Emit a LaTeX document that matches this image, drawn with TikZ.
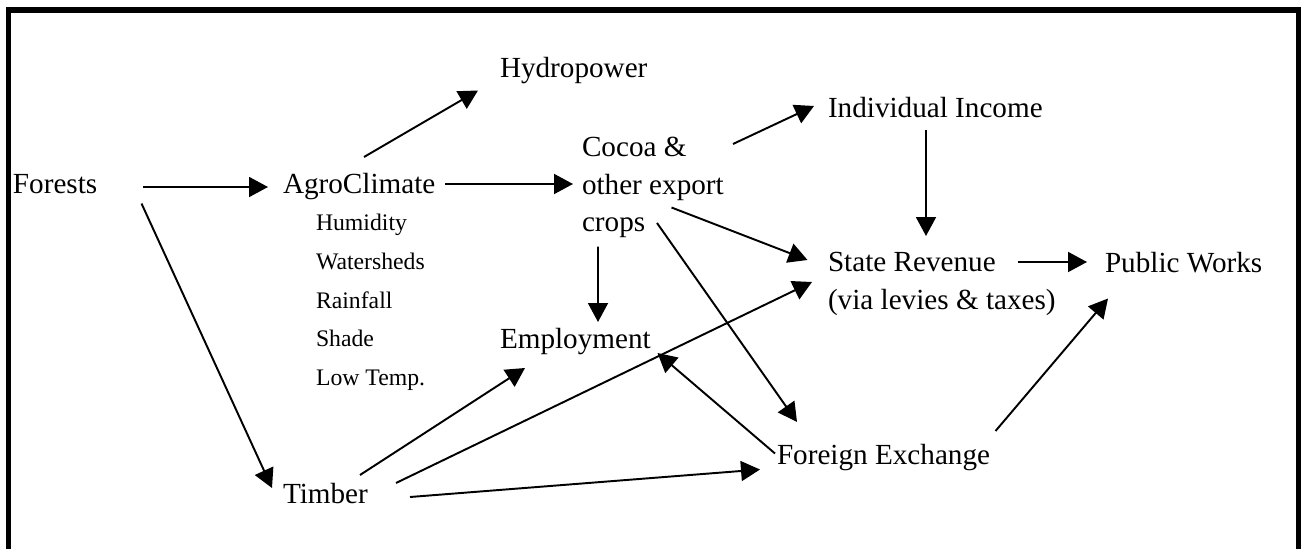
\documentclass[tikz,border=0pt]{standalone}
\usepackage{fontspec}
\setmainfont{Liberation Serif}
\usetikzlibrary{arrows.meta}

\begin{document}
\begin{tikzpicture}
	\tikzstyle{Item} = [inner sep=0pt, outer sep=0pt, font=\fontsize{16.6}{21.3}\selectfont]
	\tikzstyle{Factor} = [inner sep=0pt, outer sep=0pt, font=\fontsize{13.5}{16}\selectfont, anchor=base west]
	\tikzstyle{arrow} = [line width=1.1pt, -{Triangle[length=0.38cm, width=0.4cm]}]

	\useasboundingbox (0,0) rectangle (26.04,10.96);
	% outer frame, its bottom edge lies below the page
	\draw [line width=3pt] (0.17,-1) rectangle (25.97,10.76);

	\node (forests) [Item, anchor=base west] at (0.26,7.09) {Forests};
	\node (agro) [Item, anchor=base west] at (5.66,7.09) {AgroClimate};
	\node (hydro) [Item, anchor=base west] at (10.0,9.41) {Hydropower};
	\node (cocoa) [Item, anchor=north west, align=left] at (11.64,8.21) {Cocoa \&\\other export\\crops};
	\node (indiv) [Item, anchor=base west] at (16.56,8.62) {Individual Income};
	\node (state) [Item, anchor=north west, align=left] at (16.56,5.91) {State Revenue\\(via levies \& taxes)};
	\node (public) [Item, anchor=base west] at (22.10,5.52) {Public Works};
	\node (employ) [Item, anchor=base west] at (10.0,4.0) {Employment};
	\node (timber) [Item, anchor=base west] at (5.66,0.90) {Timber};
	\node (forex) [Item, anchor=base west] at (15.54,1.68) {Foreign Exchange};

	% what the agro climate is made of
	\foreach \f [count=\i] in {Humidity, Watersheds, Rainfall, Shade, Low Temp.}
		\node (f\i) [Factor] at (6.32,{7.126-0.776*\i}) {\f};

	\draw[arrow] ([shift={(2.60,0.13)}]forests.base west) -- ([shift={(-0.30,0.13)}]agro.base west);
	\draw[arrow] ([shift={(2.57,-0.20)}]forests.base west) -- ([shift={(-0.22,0.30)}]timber.base west);
	\draw[arrow] ([shift={(1.62,0.73)}]agro.base west) -- ([shift={(-0.44,-0.26)}]hydro.base west);
	\draw[arrow] ([shift={(3.24,0.19)}]agro.base west) -- ([shift={(-0.18,-0.93)}]cocoa.north west);
	\draw[arrow] ([shift={(3.02,-0.13)}]cocoa.north west) -- ([shift={(-0.28,0.22)}]indiv.base west);
	\draw[arrow] ([shift={(1.79,-1.40)}]cocoa.north west) -- ([shift={(-0.41,-0.15)}]state.north west);
	\draw[arrow] ([shift={(0.32,-2.18)}]cocoa.north west) -- ([shift={(1.96,0.52)}]employ.base west);
	\draw[arrow] ([shift={(1.50,-1.71)}]cocoa.north west) -- ([shift={(0.40,0.84)}]forex.base west);
	\draw[arrow] ([shift={(1.96,-0.26)}]indiv.base west) -- ([shift={(1.96,0.33)}]state.north west);
	\draw[arrow] ([shift={(3.80,-0.19)}]state.north west) -- ([shift={(-0.36,0.20)}]public.base west);
	\draw[arrow] ([shift={(4.37,0.66)}]forex.base west) -- ([shift={(0.06,-0.53)}]public.base west);
	\draw[arrow] ([shift={(-0.04,0.21)}]forex.base west) -- ([shift={(3.15,-0.10)}]employ.base west);
	\draw[arrow] ([shift={(1.54,0.56)}]timber.base west) -- ([shift={(0.50,-0.40)}]employ.base west);
	\draw[arrow] ([shift={(2.26,0.40)}]timber.base west) -- ([shift={(-0.32,-0.59)}]state.north west);
	\draw[arrow] ([shift={(2.54,0.12)}]timber.base west) -- ([shift={(-0.34,-0.11)}]forex.base west);
\end{tikzpicture}
\end{document}
